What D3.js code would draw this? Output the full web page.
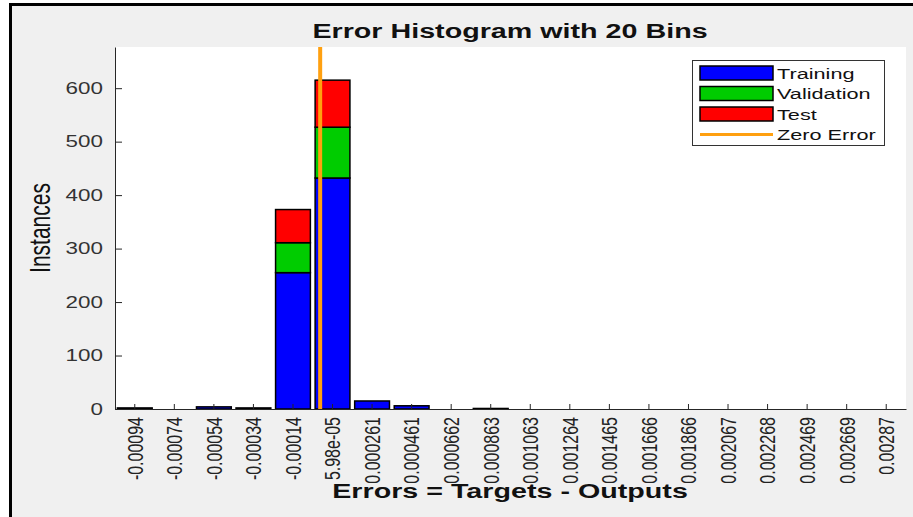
<!DOCTYPE html>
<html>
<head>
<meta charset="utf-8">
<script src="https://cdn.jsdelivr.net/npm/d3@7"></script>
<style>
	body { margin: 0; background: white; }
	svg { display: block; font-family: "Liberation Sans", Arial, sans-serif; }
</style>
</head>
<body>
<div id="chart"></div>
<script>
// bin centre labels, as printed under the axis
const binLabels = [
	"-0.00094", "-0.00074", "-0.00054", "-0.00034", "-0.00014", "5.98e-05",
	"0.000261", "0.000461", "0.000662", "0.000863", "0.001063", "0.001264",
	"0.001465", "0.001666", "0.001866", "0.002067", "0.002268", "0.002469",
	"0.002669", "0.00287",
]
const training = [2, 0, 4, 2, 255, 432, 15, 6, 0, 1, 0, 0, 0, 0, 0, 0, 0, 0, 0, 0]
const validation = [0, 0, 0, 0, 56, 95, 0, 0, 0, 0, 0, 0, 0, 0, 0, 0, 0, 0, 0, 0]
const test = [0, 0, 0, 0, 62, 88, 0, 0, 0, 0, 0, 0, 0, 0, 0, 0, 0, 0, 0, 0]
const yTicks = [0, 100, 200, 300, 400, 500, 600]
const seriesNames = ["Training", "Validation", "Test"]
const seriesColors = ["#0000ff", "#00cc00", "#ff0000"]
const zeroColor = "#ffa010"

const W = 913, H = 517
const SX = 1.4 // the source picture is stretched sideways, so is the text
const plot = { left: 115, right: 906, top: 47, bottom: 409 }

const svg = d3.select("#chart").append("svg").attr("width", W).attr("height", H)

// figure background and frame
svg.append("rect").attr("x", 12).attr("y", 6).attr("width", W - 12).attr("height", H - 6).attr("fill", "#f0f0f0")
svg.append("path").attr("d", `M10.5,${H} V4.5 H${W}`).attr("fill", "none").attr("stroke", "#000").attr("stroke-width", 3)

// plot area
svg.append("rect")
	.attr("x", plot.left).attr("y", plot.top)
	.attr("width", plot.right - plot.left).attr("height", plot.bottom - plot.top)
	.attr("fill", "#fff")

const x = d3.scaleBand().domain(binLabels).range([plot.left, plot.right]).paddingInner(0.12).paddingOuter(0.06)
const y = d3.scaleLinear().domain([0, 677]).range([plot.bottom, plot.top])
// numeric x for the zero-error line, through the first and last bin centres
const xVal = d3.scaleLinear()
	.domain([+binLabels[0], +binLabels[binLabels.length - 1]])
	.range([x(binLabels[0]) + x.bandwidth() / 2, x(binLabels[binLabels.length - 1]) + x.bandwidth() / 2])

// stacked bars
const rows = binLabels.map((b, i) => ({ bin: b, Training: training[i], Validation: validation[i], Test: test[i] }))
const stacked = d3.stack().keys(seriesNames)(rows)

stacked.forEach((layer, li) => {
	svg.append("g")
		.selectAll("rect")
		.data(layer.filter((d) => d[1] - d[0] > 0))
		.join("rect")
		.attr("x", (d) => x(d.data.bin))
		.attr("width", x.bandwidth())
		.attr("y", (d) => y(d[1]))
		.attr("height", (d) => y(d[0]) - y(d[1]))
		.attr("fill", seriesColors[li])
		.attr("stroke", "#000")
		.attr("stroke-width", 1.5)
})

// axes
const yAxis = svg.append("g")
	.attr("transform", `translate(${plot.left},0)`)
	.call(d3.axisLeft(y).tickValues(yTicks).tickSizeInner(-7).tickSizeOuter(0))
yAxis.select(".domain").attr("stroke", "#262626")
yAxis.selectAll(".tick line").attr("stroke", "#262626")
yAxis.selectAll(".tick text")
	.attr("x", -8.6)
	.attr("transform", `scale(${SX},1)`)
	.attr("fill", "#333")
	.style("font-size", "16px")
	.style("font-family", "Liberation Sans, Arial, sans-serif")

const xAxis = svg.append("g")
	.attr("transform", `translate(0,${plot.bottom})`)
	.call(d3.axisBottom(x).tickSizeInner(-5).tickSizeOuter(0))
xAxis.select(".domain").attr("stroke", "#262626")
xAxis.selectAll(".tick line").attr("stroke", "#262626")
xAxis.selectAll(".tick text")
	.attr("x", -8)
	.attr("y", 0)
	.attr("dy", "0.35em")
	.attr("text-anchor", "end")
	.attr("transform", `scale(${SX},1) rotate(-90)`)
	.attr("fill", "#222")
	.style("font-size", "16px")
	.style("font-family", "Liberation Sans, Arial, sans-serif")

// zero error line
svg.append("line")
	.attr("x1", xVal(0)).attr("x2", xVal(0))
	.attr("y1", plot.top).attr("y2", plot.bottom)
	.attr("stroke", zeroColor)
	.attr("stroke-width", 4)

// titles
svg.append("text")
	.attr("transform", `translate(510,38) scale(${SX},1)`)
	.attr("text-anchor", "middle")
	.style("font-size", "20.5px").style("font-weight", "bold")
	.attr("fill", "#111")
	.text("Error Histogram with 20 Bins")

svg.append("text")
	.attr("transform", `translate(510,498) scale(${SX},1)`)
	.attr("text-anchor", "middle")
	.style("font-size", "20.5px").style("font-weight", "bold")
	.attr("fill", "#111")
	.text("Errors = Targets - Outputs")

svg.append("text")
	.attr("transform", `translate(50,228) scale(${SX},1) rotate(-90)`)
	.attr("text-anchor", "middle")
	.style("font-size", "21px")
	.attr("fill", "#111")
	.text("Instances")

// legend
const legend = svg.append("g")
legend.append("rect")
	.attr("x", 692.5).attr("y", 60.5).attr("width", 192).attr("height", 85)
	.attr("fill", "#fff").attr("stroke", "#333").attr("stroke-width", 1)

const legendItems = seriesNames.concat(["Zero Error"])
legendItems.forEach((name, i) => {
	const cy = 73 + i * 20.5
	if (i < 3) {
		legend.append("rect")
			.attr("x", 700).attr("y", cy - 7).attr("width", 73).attr("height", 14)
			.attr("fill", seriesColors[i]).attr("stroke", "#000").attr("stroke-width", 1.5)
	} else {
		legend.append("line")
			.attr("x1", 700).attr("x2", 773).attr("y1", cy).attr("y2", cy)
			.attr("stroke", zeroColor).attr("stroke-width", 3)
	}
	legend.append("text")
		.attr("transform", `translate(777,${cy + 5.5}) scale(${SX},1)`)
		.style("font-size", "15.5px")
		.attr("fill", "#111")
		.text(name)
})
</script>
</body>
</html>
